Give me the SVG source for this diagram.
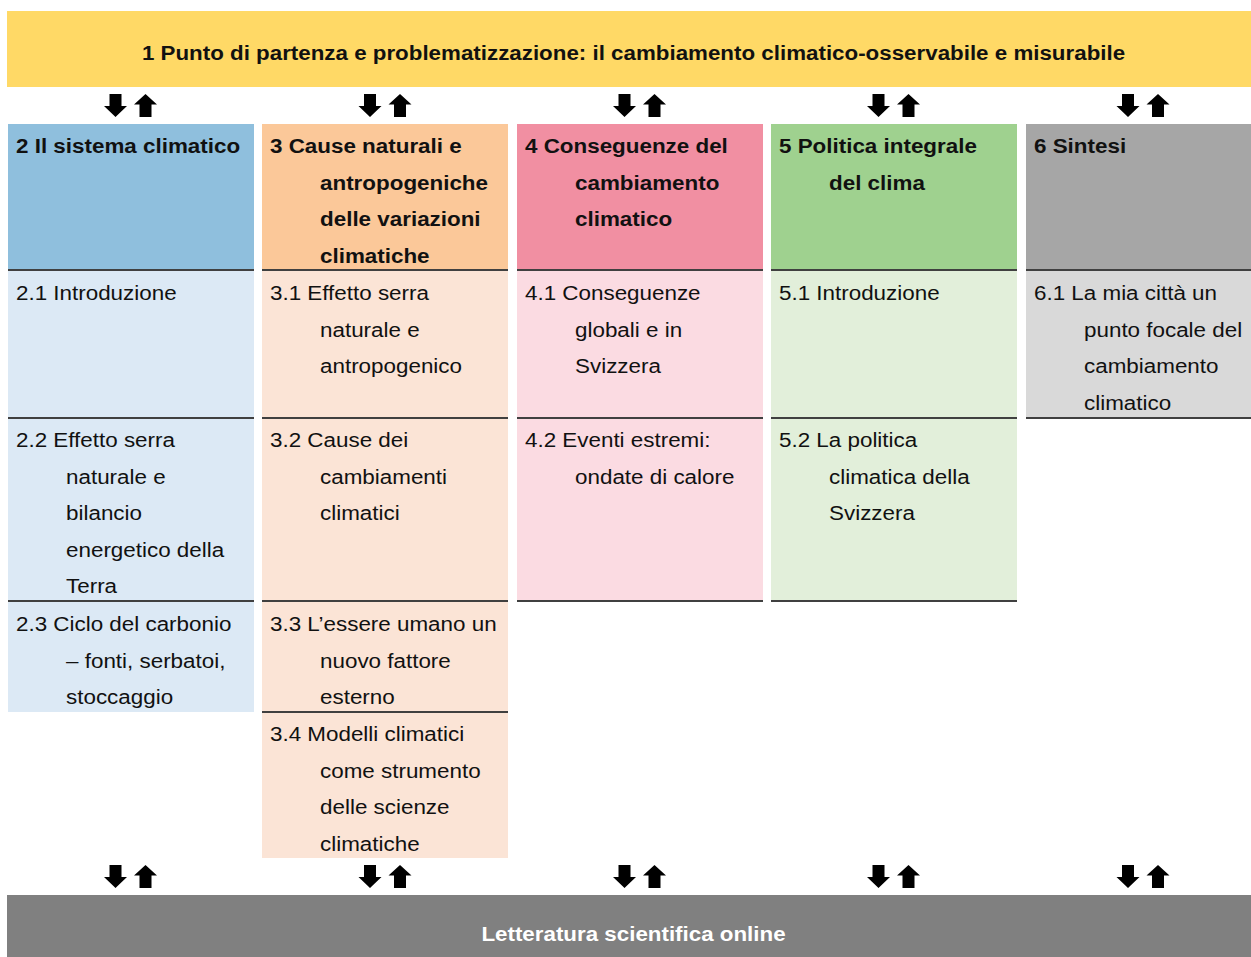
<svg xmlns="http://www.w3.org/2000/svg" xmlns:xlink="http://www.w3.org/1999/xlink" width="1251" height="957" viewBox="0 0 1251 957">
<style>
text{font-family:"Liberation Sans",Arial,sans-serif;fill:#111}
.h{font-weight:bold;font-size:21px}
.b{font-size:21px}
.banner{font-weight:bold;font-size:20.5px}
.sep{stroke:#404040;stroke-width:2}
</style>
<defs>
<g id="arr">
<path d="M-6,0 H6 V12 H11.5 L0,23 L-11.5,12 H-6 Z" fill="#000"/>
<path d="M30,0 L41.5,10.5 H36 V23 H24 V10.5 H18.5 Z" fill="#000"/>
</g>
</defs>
<rect width="1251" height="957" fill="#fff"/>
<g id="top">
<rect x="7" y="11" width="1244" height="76" fill="#ffd966"/>
<text class="banner" transform="translate(633.5,60) scale(1.09,1)" x="0" y="0" text-anchor="middle">1 Punto di partenza e problematizzazione: il cambiamento climatico-osservabile e misurabile</text>
</g>
<g id="bottom">
<rect x="7" y="895" width="1244" height="62" fill="#808080"/>
<text class="banner" transform="translate(633.5,941) scale(1.09,1)" x="0" y="0" text-anchor="middle" style="fill:#fff">Letteratura scientifica online</text>
</g>
<g id="connectors">
<use xlink:href="#arr" x="115.5" y="94"/>
<use xlink:href="#arr" x="370" y="94"/>
<use xlink:href="#arr" x="624.5" y="94"/>
<use xlink:href="#arr" x="878.5" y="94"/>
<use xlink:href="#arr" x="1128" y="94"/>
<use xlink:href="#arr" x="115.5" y="865"/>
<use xlink:href="#arr" x="370" y="865"/>
<use xlink:href="#arr" x="624.5" y="865"/>
<use xlink:href="#arr" x="878.5" y="865"/>
<use xlink:href="#arr" x="1128" y="865"/>
</g>
<g id="col2">
<rect x="8" y="124" width="246" height="146" fill="#8fbfdd"/>
<g transform="translate(16,0) scale(1.067,1)">
<text class="h" x="0" y="153">2 Il sistema climatico</text>
</g>
</g>
<g id="n2-1">
<rect x="8" y="270" width="246" height="148" fill="#dce9f5"/>
<g transform="translate(16,0) scale(1.067,1)">
<text class="b" x="0" y="300">2.1 Introduzione</text>
</g>
</g>
<g id="n2-2">
<rect x="8" y="418" width="246" height="183" fill="#dce9f5"/>
<g transform="translate(16,0) scale(1.067,1)">
<text class="b" x="0" y="447">2.2 Effetto serra</text>
<text class="b" x="46.9" y="484">naturale e</text>
<text class="b" x="46.9" y="520">bilancio</text>
<text class="b" x="46.9" y="557">energetico della</text>
<text class="b" x="46.9" y="593">Terra</text>
</g>
</g>
<g id="n2-3">
<rect x="8" y="601" width="246" height="111" fill="#dce9f5"/>
<g transform="translate(16,0) scale(1.067,1)">
<text class="b" x="0" y="631">2.3 Ciclo del carbonio</text>
<text class="b" x="46.9" y="668">– fonti, serbatoi,</text>
<text class="b" x="46.9" y="704">stoccaggio</text>
</g>
</g>
<g id="col3">
<rect x="262" y="124" width="246" height="146" fill="#fbc899"/>
<g transform="translate(270,0) scale(1.067,1)">
<text class="h" x="0" y="153">3 Cause naturali e</text>
<text class="h" x="46.9" y="190">antropogeniche</text>
<text class="h" x="46.9" y="226">delle variazioni</text>
<text class="h" x="46.9" y="263">climatiche</text>
</g>
</g>
<g id="n3-1">
<rect x="262" y="270" width="246" height="148" fill="#fbe4d6"/>
<g transform="translate(270,0) scale(1.067,1)">
<text class="b" x="0" y="300">3.1 Effetto serra</text>
<text class="b" x="46.9" y="337">naturale e</text>
<text class="b" x="46.9" y="373">antropogenico</text>
</g>
</g>
<g id="n3-2">
<rect x="262" y="418" width="246" height="183" fill="#fbe4d6"/>
<g transform="translate(270,0) scale(1.067,1)">
<text class="b" x="0" y="447">3.2 Cause dei</text>
<text class="b" x="46.9" y="484">cambiamenti</text>
<text class="b" x="46.9" y="520">climatici</text>
</g>
</g>
<g id="n3-3">
<rect x="262" y="601" width="246" height="111" fill="#fbe4d6"/>
<g transform="translate(270,0) scale(1.067,1)">
<text class="b" x="0" y="631">3.3 L’essere umano un</text>
<text class="b" x="46.9" y="668">nuovo fattore</text>
<text class="b" x="46.9" y="704">esterno</text>
</g>
</g>
<g id="n3-4">
<rect x="262" y="712" width="246" height="146" fill="#fbe4d6"/>
<g transform="translate(270,0) scale(1.067,1)">
<text class="b" x="0" y="741">3.4 Modelli climatici</text>
<text class="b" x="46.9" y="778">come strumento</text>
<text class="b" x="46.9" y="814">delle scienze</text>
<text class="b" x="46.9" y="851">climatiche</text>
</g>
</g>
<g id="col4">
<rect x="517" y="124" width="246" height="146" fill="#f18fa2"/>
<g transform="translate(525,0) scale(1.067,1)">
<text class="h" x="0" y="153">4 Conseguenze del</text>
<text class="h" x="46.9" y="190">cambiamento</text>
<text class="h" x="46.9" y="226">climatico</text>
</g>
</g>
<g id="n4-1">
<rect x="517" y="270" width="246" height="148" fill="#fbdbe2"/>
<g transform="translate(525,0) scale(1.067,1)">
<text class="b" x="0" y="300">4.1 Conseguenze</text>
<text class="b" x="46.9" y="337">globali e in</text>
<text class="b" x="46.9" y="373">Svizzera</text>
</g>
</g>
<g id="n4-2">
<rect x="517" y="418" width="246" height="183" fill="#fbdbe2"/>
<g transform="translate(525,0) scale(1.067,1)">
<text class="b" x="0" y="447">4.2 Eventi estremi:</text>
<text class="b" x="46.9" y="484">ondate di calore</text>
</g>
</g>
<g id="col5">
<rect x="771" y="124" width="246" height="146" fill="#9fd18f"/>
<g transform="translate(779,0) scale(1.067,1)">
<text class="h" x="0" y="153">5 Politica integrale</text>
<text class="h" x="46.9" y="190">del clima</text>
</g>
</g>
<g id="n5-1">
<rect x="771" y="270" width="246" height="148" fill="#e2efda"/>
<g transform="translate(779,0) scale(1.067,1)">
<text class="b" x="0" y="300">5.1 Introduzione</text>
</g>
</g>
<g id="n5-2">
<rect x="771" y="418" width="246" height="183" fill="#e2efda"/>
<g transform="translate(779,0) scale(1.067,1)">
<text class="b" x="0" y="447">5.2 La politica</text>
<text class="b" x="46.9" y="484">climatica della</text>
<text class="b" x="46.9" y="520">Svizzera</text>
</g>
</g>
<g id="col6">
<rect x="1026" y="124" width="225" height="146" fill="#a6a6a6"/>
<g transform="translate(1034,0) scale(1.067,1)">
<text class="h" x="0" y="153">6 Sintesi</text>
</g>
</g>
<g id="n6-1">
<rect x="1026" y="270" width="225" height="148" fill="#d9d9d9"/>
<g transform="translate(1034,0) scale(1.067,1)">
<text class="b" x="0" y="300">6.1 La mia città un</text>
<text class="b" x="46.9" y="337">punto focale del</text>
<text class="b" x="46.9" y="373">cambiamento</text>
<text class="b" x="46.9" y="410">climatico</text>
</g>
</g>
<g id="separators">
<line class="sep" x1="8" y1="270" x2="254" y2="270"/>
<line class="sep" x1="262" y1="270" x2="508" y2="270"/>
<line class="sep" x1="517" y1="270" x2="763" y2="270"/>
<line class="sep" x1="771" y1="270" x2="1017" y2="270"/>
<line class="sep" x1="1026" y1="270" x2="1251" y2="270"/>
<line class="sep" x1="8" y1="418" x2="254" y2="418"/>
<line class="sep" x1="262" y1="418" x2="508" y2="418"/>
<line class="sep" x1="517" y1="418" x2="763" y2="418"/>
<line class="sep" x1="771" y1="418" x2="1017" y2="418"/>
<line class="sep" x1="1026" y1="418" x2="1251" y2="418"/>
<line class="sep" x1="8" y1="601" x2="254" y2="601"/>
<line class="sep" x1="262" y1="601" x2="508" y2="601"/>
<line class="sep" x1="517" y1="601" x2="763" y2="601"/>
<line class="sep" x1="771" y1="601" x2="1017" y2="601"/>
<line class="sep" x1="262" y1="712" x2="508" y2="712"/>
</g>
</svg>
